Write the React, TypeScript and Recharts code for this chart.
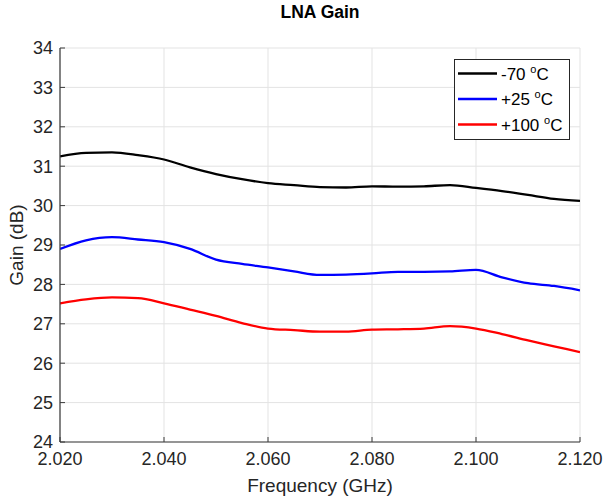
import React from 'react';
import { LineChart, Line, XAxis, YAxis, CartesianGrid, Legend, Customized } from 'recharts';

const FREQ = [2.020, 2.025, 2.030, 2.035, 2.040, 2.045, 2.050, 2.055, 2.060, 2.065, 2.070, 2.075, 2.080, 2.085, 2.090, 2.095, 2.100, 2.105, 2.110, 2.115, 2.120];
const GAIN_M70 = [31.25, 31.34, 31.35, 31.28, 31.17, 30.97, 30.80, 30.67, 30.57, 30.52, 30.47, 30.46, 30.49, 30.48, 30.49, 30.52, 30.45, 30.37, 30.27, 30.17, 30.12];
const GAIN_P25 = [28.90, 29.12, 29.20, 29.14, 29.07, 28.90, 28.63, 28.52, 28.43, 28.33, 28.24, 28.25, 28.28, 28.32, 28.32, 28.33, 28.37, 28.18, 28.03, 27.96, 27.85];
const GAIN_P100 = [27.52, 27.62, 27.67, 27.65, 27.52, 27.36, 27.20, 27.02, 26.88, 26.84, 26.80, 26.80, 26.85, 26.86, 26.88, 26.94, 26.88, 26.74, 26.58, 26.43, 26.28];
const X_TICKS = [2.02, 2.04, 2.06, 2.08, 2.1, 2.12];
const Y_TICKS = [24, 25, 26, 27, 28, 29, 30, 31, 32, 33, 34];
const SERIES_LABELS = ['-70', '+25', '+100'];
const SERIES_COLORS = ['#000000', '#0000ff', '#ff0000'];
const TITLE = 'LNA Gain';
const X_LABEL = 'Frequency (GHz)';
const Y_LABEL = 'Gain (dB)';

const data = FREQ.map((f, i) => ({ f, a: GAIN_M70[i], b: GAIN_P25[i], c: GAIN_P100[i] }));
const KEYS = ['a', 'b', 'c'];

const FONT = '"Liberation Sans", Arial, Helvetica, sans-serif';
const AXIS_COLOR = '#3a3a3a';
const TEXT_COLOR = '#262626';

const renderLegend = (props: any) => {
  const payload = [...(props.payload || [])].sort(
    (p: any, q: any) => SERIES_LABELS.indexOf(p.value) - SERIES_LABELS.indexOf(q.value)
  );
  return (
    <svg width={117} height={82} style={{ display: 'block' }}>
      <rect x={0.5} y={0.5} width={115} height={80} fill="#ffffff" stroke="#262626" strokeWidth={1} />
      {payload.map((p: any, i: number) => {
        const y = 14.5 + 25.5 * i;
        return (
          <g key={i}>
            <line x1={4} x2={43} y1={y} y2={y} stroke={p.color} strokeWidth={2.5} />
            <text x={47} y={y + 6} fontFamily={FONT} fontSize={17} fill="#000">
              <tspan>{p.value + ' '}</tspan>
              <tspan dy={-7} fontSize={11}>o</tspan>
              <tspan dy={7}>C</tspan>
            </text>
          </g>
        );
      })}
    </svg>
  );
};

const Labels = () => (
  <g fontFamily={FONT} fill={TEXT_COLOR}>
    <text x={320} y={17.5} textAnchor="middle" fontWeight="bold" fontSize={17.5} fill="#000">{TITLE}</text>
    <text x={320} y={492} textAnchor="middle" fontSize={19}>{X_LABEL}</text>
    <text x={0} y={0} transform="translate(23,245) rotate(-90)" textAnchor="middle" fontSize={19}>{Y_LABEL}</text>
  </g>
);

export default function App() {
  return (
    <div style={{ position: 'absolute', left: 0, top: 0, width: 605, height: 497, background: '#fff', fontFamily: FONT }}>
      <LineChart width={605} height={497} data={data} margin={{ top: 48, right: 25, bottom: 0, left: 0 }}>
        <CartesianGrid stroke="#e3e3e3" strokeWidth={1} vertical horizontal />
        <XAxis
          dataKey="f"
          type="number"
          domain={[2.02, 2.12]}
          ticks={X_TICKS}
          allowDataOverflow
          height={55}
          tickFormatter={(v: number) => v.toFixed(3)}
          tick={{ fill: TEXT_COLOR, fontSize: 18, fontFamily: FONT }}
          tickSize={-5}
          tickMargin={15}
          stroke={AXIS_COLOR}
          tickLine={{ stroke: AXIS_COLOR }}
          axisLine={{ stroke: AXIS_COLOR, strokeWidth: 1.2 }}
        />
        <XAxis
          xAxisId="top"
          dataKey="f"
          type="number"
          orientation="top"
          domain={[2.02, 2.12]}
          ticks={X_TICKS}
          allowDataOverflow
          height={0}
          tick={false}
          tickSize={-5}
          stroke={AXIS_COLOR}
          axisLine={{ stroke: AXIS_COLOR, strokeWidth: 1.2 }}
        />
        <YAxis
          type="number"
          domain={[24, 34]}
          ticks={Y_TICKS}
          allowDataOverflow
          width={60}
          tick={{ fill: TEXT_COLOR, fontSize: 18, fontFamily: FONT }}
          tickSize={-5}
          tickMargin={12}
          stroke={AXIS_COLOR}
          axisLine={{ stroke: AXIS_COLOR, strokeWidth: 1.2 }}
        />
        <YAxis
          yAxisId="right"
          orientation="right"
          type="number"
          domain={[24, 34]}
          ticks={Y_TICKS}
          allowDataOverflow
          width={0}
          tick={false}
          tickSize={-5}
          stroke={AXIS_COLOR}
          axisLine={{ stroke: AXIS_COLOR, strokeWidth: 1.2 }}
        />
        {KEYS.map((k, i) => (
          <Line
            key={k}
            type="monotone"
            dataKey={k}
            name={SERIES_LABELS[i]}
            stroke={SERIES_COLORS[i]}
            strokeWidth={2.3}
            dot={false}
            activeDot={false}
            isAnimationActive={false}
          />
        ))}
        <Legend
          layout="horizontal"
          verticalAlign="middle"
          align="center"
          content={renderLegend}
          wrapperStyle={{ position: 'absolute', left: 454, top: 59, width: 117, height: 82 }}
        />
        <Customized component={Labels} />
      </LineChart>
    </div>
  );
}
